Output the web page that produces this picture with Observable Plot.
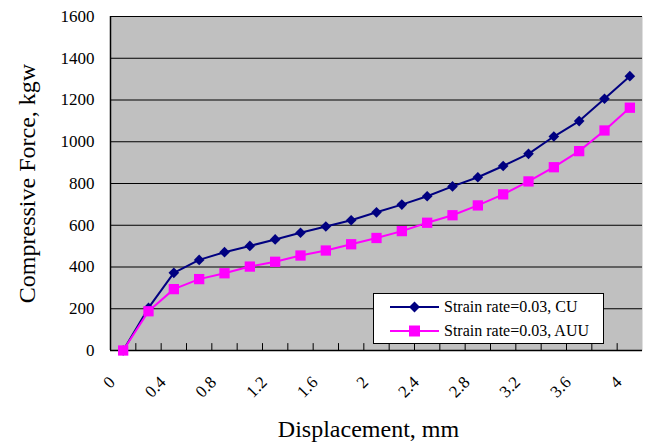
<!DOCTYPE html>
<html>
<head>
<meta charset="utf-8">
<script src="https://cdn.jsdelivr.net/npm/d3@7"></script>
<script src="https://cdn.jsdelivr.net/npm/@observablehq/plot@0.6"></script>
<style>
  body { margin: 0; background: #fff; }
  #chart { position: relative; width: 645px; height: 446px; }
  #chart svg, #chart svg text { font-family: "Liberation Serif", "Times New Roman", serif; font-variant-numeric: normal; }
  .legend {
    position: absolute; left: 373px; top: 293px; width: 231px; height: 51px;
    background: #fff; border: 1px solid #000; box-sizing: border-box;
    font: 16px "Liberation Serif", "Times New Roman", serif; color: #000;
  }
  .legend .row { position: absolute; left: 16px; height: 20px; display: flex; align-items: center; white-space: nowrap; }
  .legend svg { display: block; margin-right: 5px; }
</style>
</head>
<body>
<div id="chart"></div>
<script>
// Displacement categories (mm) and measured compressive force (kgw)
const displacement = [0, 0.2, 0.4, 0.6, 0.8, 1.0, 1.2, 1.4, 1.6, 1.8, 2.0,
                      2.2, 2.4, 2.6, 2.8, 3.0, 3.2, 3.4, 3.6, 3.8, 4.0];
const forceCU  = [0, 204, 372, 434, 471, 501, 532, 564, 594, 624, 662,
                  699, 739, 786, 830, 884, 942, 1025, 1099, 1206, 1314];
const forceAUU = [0, 188, 294, 342, 370, 402, 425, 455, 479, 509, 539,
                  572, 612, 648, 695, 748, 810, 878, 955, 1054, 1163];

const seriesNames = ["Strain rate=0.03, CU", "Strain rate=0.03, AUU"];
const seriesColors = ["#000080", "#ff00ff"];

const xTickValues = [0, 0.4, 0.8, 1.2, 1.6, 2, 2.4, 2.8, 3.2, 3.6, 4];
const yTickValues = [0, 200, 400, 600, 800, 1000, 1200, 1400, 1600];

const xTitle = "Displacement, mm";
const yTitle = "Compressive Force, kgw";

const rowsCU  = displacement.map((d, i) => ({x: d, y: forceCU[i]}));
const rowsAUU = displacement.map((d, i) => ({x: d, y: forceAUU[i]}));

// category boundaries for the small inner tick marks on the x axis
const boundaries = d3.pairs(displacement, (a, b) => (a + b) / 2);

const serif = "Liberation Serif, Times New Roman, serif";

const chart = Plot.plot({
  width: 645,
  height: 446,
  marginLeft: 110,
  marginRight: 3,
  marginTop: 16,
  marginBottom: 96,
  style: { fontFamily: serif, fontSize: "17px", background: "#fff", color: "#000", overflow: "visible" },
  x: { type: "linear", domain: [-0.1, 4.1] },
  y: { domain: [0, 1600] },
  marks: [
    Plot.frame({ fill: "#c0c0c0", stroke: null }),
    Plot.gridY(yTickValues, { stroke: "#000", strokeOpacity: 1, strokeWidth: 1 }),
    Plot.ruleX(boundaries, { y1: 0, y2: 33, stroke: "#000", strokeWidth: 1 }),
    Plot.ruleY([0], { stroke: "#000", strokeWidth: 1.5 }),
    Plot.ruleX([-0.1], { stroke: "#000", strokeWidth: 1.5 }),
    Plot.axisY(yTickValues, {
      tickSize: 0, tickPadding: 16, fontSize: 17, fontFamily: serif, label: null,
      tickFormat: d => String(d)
    }),
    Plot.axisX(xTickValues, {
      tickSize: 0, tickPadding: 29, tickRotate: -45, fontSize: 17, fontFamily: serif, label: null,
      tickFormat: d => String(d), dx: -11
    }),
    Plot.line(rowsCU,  { x: "x", y: "y", stroke: seriesColors[0], strokeWidth: 2 }),
    Plot.line(rowsAUU, { x: "x", y: "y", stroke: seriesColors[1], strokeWidth: 2 }),
    Plot.dot(rowsCU,  { x: "x", y: "y", symbol: "diamond2", r: 4.8, fill: seriesColors[0], stroke: null }),
    Plot.dot(rowsAUU, { x: "x", y: "y", symbol: "square", r: 5.8, fill: seriesColors[1], stroke: null }),
    Plot.text([xTitle], {
      frameAnchor: "bottom", text: d => d, dx: -8, dy: 79, fontSize: 24, fontFamily: serif,
      lineAnchor: "middle", textAnchor: "middle", fill: "#000"
    }),
    Plot.text([yTitle], {
      frameAnchor: "left", text: d => d, dx: -83, rotate: -90, fontSize: 24, fontFamily: serif,
      lineAnchor: "middle", textAnchor: "middle", fill: "#000"
    })
  ]
});

const host = document.getElementById("chart");
host.appendChild(chart);

// legend box inside the plot area
const legend = document.createElement("div");
legend.className = "legend";
const markers = ["diamond", "square"];
seriesNames.forEach((name, i) => {
  const row = document.createElement("div");
  row.className = "row";
  row.style.top = (i === 0 ? 3 : 27) + "px";
  const sw = d3.create("svg").attr("width", 49).attr("height", 16);
  sw.append("line").attr("x1", 0).attr("x2", 49).attr("y1", 8).attr("y2", 8)
    .attr("stroke", seriesColors[i]).attr("stroke-width", 2);
  if (markers[i] === "diamond") {
    sw.append("path").attr("d", "M24.5,2.5L30,8L24.5,13.5L19,8Z").attr("fill", seriesColors[i]);
  } else {
    sw.append("rect").attr("x", 19).attr("y", 2.5).attr("width", 11).attr("height", 11).attr("fill", seriesColors[i]);
  }
  row.appendChild(sw.node());
  const label = document.createElement("span");
  label.textContent = name;
  row.appendChild(label);
  legend.appendChild(row);
});
host.appendChild(legend);
</script>
</body>
</html>
